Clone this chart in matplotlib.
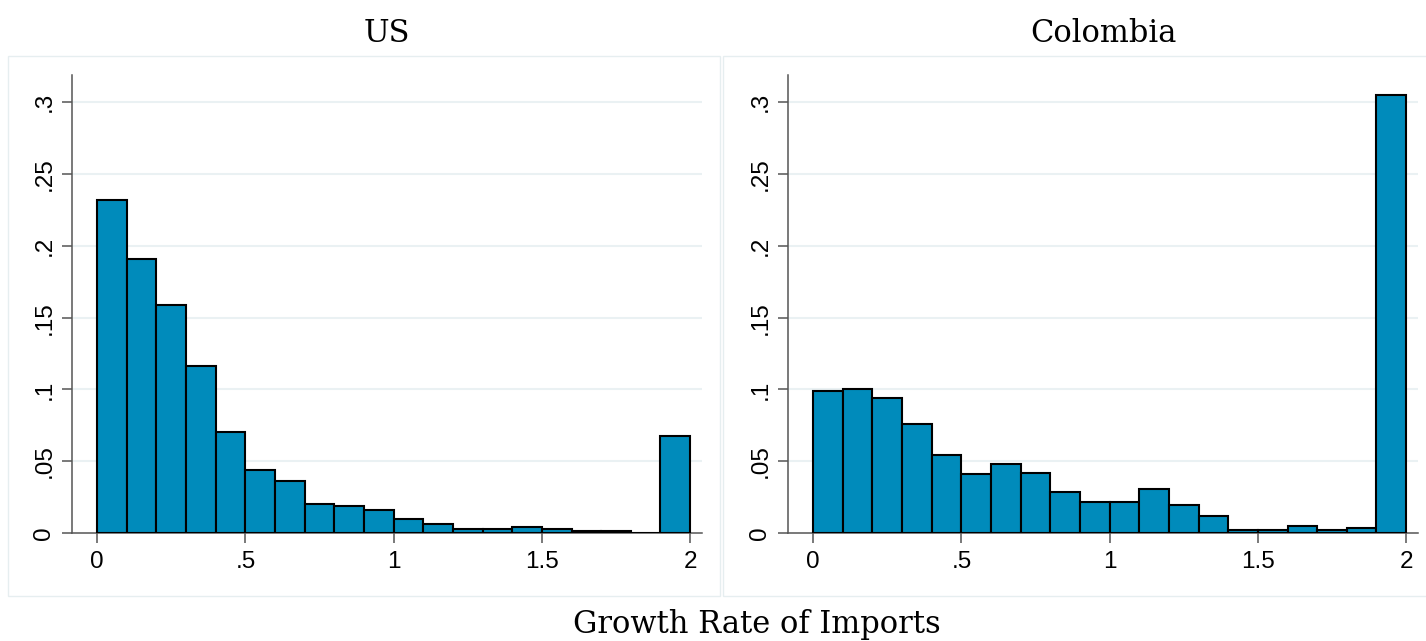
import numpy as np
import matplotlib.pyplot as plt
from matplotlib.patches import Rectangle

# Histogram bins (width 0.1, from 0 to 2)
bin_edges = np.round(np.arange(0, 2.01, 0.1), 2)

us_frac = [0.232, 0.191, 0.159, 0.116, 0.070, 0.044, 0.036, 0.020, 0.019, 0.016,
           0.010, 0.006, 0.0026, 0.0026, 0.004, 0.003, 0.0014, 0.0014, 0.0, 0.0675]
col_frac = [0.099, 0.100, 0.094, 0.076, 0.054, 0.041, 0.048, 0.042, 0.0287, 0.0215,
            0.0215, 0.0306, 0.0193, 0.0116, 0.0023, 0.0023, 0.0046, 0.0023, 0.0032, 0.305]

panel_titles = ["US", "Colombia"]
xticks = [0, 0.5, 1, 1.5, 2]
xtick_labels = ["0", ".5", "1", "1.5", "2"]
yticks = [0, 0.05, 0.1, 0.15, 0.2, 0.25, 0.3]
ytick_labels = ["0", ".05", ".1", ".15", ".2", ".25", ".3"]

bar_color = '#008BBB'
grid_color = '#EAF1F3'
spine_color = '#555555'

plt.rcParams['font.family'] = ['Liberation Sans', 'DejaVu Sans']

fig = plt.figure(figsize=(14.26, 6.41), dpi=100)

# faint panel frames (Stata graph regions)
for x0, w in [(8, 712), (723, 710)]:
    fig.add_artist(Rectangle((x0 / 1426, 1 - 596 / 641), w / 1426, (596 - 56) / 641,
                             transform=fig.transFigure, fill=False,
                             edgecolor='#E6EEF0', linewidth=1.0))

axes_left = [72 / 1426, 788 / 1426]
for left, title, frac in zip(axes_left, panel_titles, [us_frac, col_frac]):
    ax = fig.add_axes([left, 1 - 533 / 641, 630 / 1426, (533 - 75) / 641])
    ax.bar(bin_edges[:-1], frac, width=0.1, align='edge', color=bar_color,
           edgecolor='black', linewidth=1.5, zorder=3)
    ax.set_xlim(-0.085, 2.04)
    ax.set_ylim(0, 0.319)
    ax.set_xticks(xticks)
    ax.set_xticklabels(xtick_labels)
    ax.set_yticks(yticks)
    ax.set_yticklabels(ytick_labels, rotation=90, va='center')
    ax.tick_params(axis='both', labelsize=17.5, length=7, width=1.1,
                   color=spine_color, direction='out')
    ax.tick_params(axis='y', pad=5)
    ax.tick_params(axis='x', pad=6)
    for t in yticks[1:]:
        ax.axhline(t, color=grid_color, linewidth=1.5, zorder=1)
    for side in ['top', 'right']:
        ax.spines[side].set_visible(False)
    for side in ['left', 'bottom']:
        ax.spines[side].set_color(spine_color)
        ax.spines[side].set_linewidth(1.1)
    ax.set_title(title, fontsize=22, family='DejaVu Serif', pad=24)

fig.text(757 / 1426, 1 - 624 / 641, "Growth Rate of Imports", ha='center', va='center',
         fontsize=22, family='DejaVu Serif')

fig.savefig('out.png', dpi=100)
